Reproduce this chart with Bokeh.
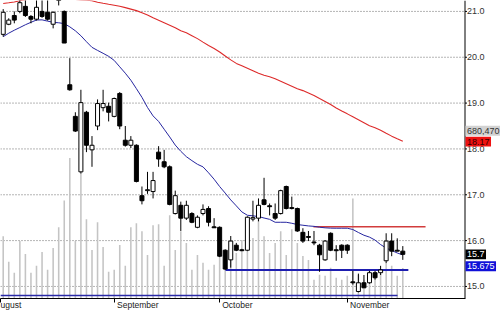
import numpy as np
from bokeh.plotting import figure
from bokeh.models import Range1d, FixedTicker
from bokeh.core.properties import value
from bokeh.embed import file_html
from bokeh.resources import INLINE

# ---------------- data ----------------
opens = [20.50, 20.72, 20.91, 21.00, 21.11, 20.89, 20.83, 21.00, 20.98, 20.72,
         21.35, 21.00, 19.40, 18.71, 17.50, 18.80, 17.98, 18.50, 18.90, 18.93,
         18.71, 19.21, 18.19, 18.08, 18.08, 16.98, 17.09, 17.07, 17.93, 17.72,
         17.61, 16.59, 16.77, 16.49, 16.59, 16.29, 16.59, 16.70, 16.30, 16.29,
         15.79, 15.58, 15.90, 15.80, 15.79, 16.47, 16.49, 16.89, 16.76, 16.59,
         16.59, 17.18, 16.72, 16.70, 16.18, 16.09, 15.97, 15.90, 15.58, 16.16,
         15.80, 15.90, 15.90, 15.10, 14.89, 15.08, 15.08, 15.30, 15.30, 15.56,
         15.99, 15.79, 15.77]
highs = [21.05, 20.85, 21.00, 21.30, 21.30, 20.92, 21.30, 21.30, 21.30, 21.00,
         21.45, 21.02, 19.98, 18.80, 19.29, 18.83, 18.28, 19.08, 19.29, 19.01,
         19.12, 19.24, 18.50, 18.28, 18.10, 17.18, 17.50, 17.50, 18.06, 17.98,
         17.64, 17.09, 16.85, 16.87, 16.62, 16.55, 16.79, 16.75, 16.49, 16.31,
         15.81, 16.10, 15.95, 15.82, 16.53, 16.87, 16.92, 17.37, 16.81, 16.81,
         17.11, 17.20, 16.96, 16.72, 16.27, 16.21, 16.21, 15.93, 16.01, 16.18,
         15.90, 15.92, 15.92, 15.34, 15.28, 15.25, 15.34, 15.34, 15.45, 16.16,
         16.16, 16.05, 15.88]
lows = [20.45, 20.70, 20.74, 20.96, 20.88, 20.74, 20.80, 20.86, 20.80, 20.63,
        21.13, 20.31, 19.27, 18.37, 17.46, 17.93, 17.61, 18.41, 18.82, 18.60,
        18.69, 18.43, 18.05, 18.02, 17.27, 16.79, 17.02, 16.92, 17.61, 17.58,
        16.77, 16.57, 16.21, 16.45, 16.38, 16.27, 16.55, 16.31, 16.28, 15.64,
        15.36, 15.41, 15.77, 15.77, 15.77, 16.42, 16.42, 16.77, 16.55, 16.45,
        16.57, 16.68, 16.68, 16.19, 15.95, 15.99, 15.90, 15.32, 15.56, 15.77,
        15.56, 15.62, 15.71, 15.04, 14.87, 14.97, 15.06, 15.15, 15.25, 15.51,
        15.66, 15.77, 15.58]
closes = [20.98, 20.81, 20.81, 21.19, 20.91, 20.83, 21.09, 20.89, 20.83, 20.98,
          21.30, 20.31, 19.29, 18.39, 19.01, 18.08, 18.08, 18.99, 18.99, 18.80,
          19.10, 18.50, 18.08, 18.19, 17.29, 16.87, 17.11, 17.31, 17.78, 17.61,
          16.79, 16.98, 16.49, 16.77, 16.40, 16.51, 16.68, 16.40, 16.29, 15.66,
          15.38, 15.99, 15.79, 15.79, 16.51, 16.50, 16.77, 16.79, 16.74, 16.49,
          17.09, 16.70, 16.70, 16.21, 15.99, 16.07, 15.95, 15.69, 15.99, 15.79,
          15.79, 15.79, 15.79, 15.08, 15.08, 14.97, 15.30, 15.19, 15.36, 15.99,
          15.77, 15.77, 15.70]
volumes_k = [1386, 814, 572, 1276, 990, 572, 726, 1034, 638, 1122,
             1584, 2178, 3124, 1276, 2772, 1760, 1078, 1694, 1144, 594,
             638, 1188, 726, 1584, 1672, 1496, 968, 1628, 1650, 726,
             1848, 1078, 1496, 1232, 638, 968, 792, 638, 748, 946,
             858, 858, 1012, 1298, 1738, 1342, 1760, 1386, 1012, 1232,
             1496, 968, 1540, 1232, 946, 858, 418, 528, 506, 682,
             462, 418, 506, 2222, 528, 418, 616, 528, 550, 792,
             726, 506, 680.47]
ma_short = [20.449, 20.525, 20.590, 20.648, 20.709, 20.762, 20.812, 20.816, 20.788, 20.762,
            20.752, 20.734, 20.663, 20.577, 20.469, 20.339, 20.216, 20.149, 20.086, 20.020,
            19.931, 19.791, 19.652, 19.499, 19.315, 19.125, 18.905, 18.721, 18.600, 18.430,
            18.261, 18.084, 17.948, 17.831, 17.745, 17.665, 17.609, 17.479, 17.339, 17.179,
            17.037, 16.888, 16.758, 16.626, 16.553, 16.540, 16.525, 16.493, 16.464, 16.400,
            16.400, 16.400, 16.378, 16.350, 16.335, 16.320, 16.311, 16.292, 16.279, 16.272,
            16.270, 16.270, 16.270, 16.242, 16.177, 16.117, 16.076, 16.011, 15.914, 15.838,
            15.784, 15.730, 15.687]
ma_long = [21.173, 21.188, 21.205, 21.231, 21.255, 21.270, 21.280, 21.287, 21.290, 21.290,
           21.287, 21.280, 21.270, 21.260, 21.248, 21.242, 21.231, 21.199, 21.177, 21.156,
           21.136, 21.112, 21.082, 21.050, 21.017, 20.970, 20.922, 20.860, 20.806, 20.752,
           20.698, 20.644, 20.579, 20.536, 20.471, 20.406, 20.330, 20.255, 20.190, 20.114,
           20.028, 19.942, 19.866, 19.812, 19.758, 19.704, 19.650, 19.607, 19.575, 19.531,
           19.477, 19.423, 19.369, 19.315, 19.272, 19.218, 19.164, 19.099, 19.035, 18.970,
           18.894, 18.829, 18.765, 18.700, 18.635, 18.570, 18.505, 18.462, 18.408, 18.343,
           18.279, 18.224, 18.170]

month_names = ["August", "September", "October", "November"]
month_start_idx = [-2.1, 20, 39, 62]
price_ticks = [15.0, 16.0, 17.0, 18.0, 19.0, 20.0, 21.0]

# drawn level lines: (start index, end index, price)
resistance_line = (55.9, 76.1, 16.30)
support_line = (40.05, 73.0, 15.36)
floor_line = (-0.5, 71.05, 14.80)

volume_last_label = "680,470"
ma_long_last_label = "18.17"
last_close_label = "15.7"
ma_short_last_label = "15.675"

# ---------------- layout helpers ----------------
X0, X1 = -0.486, 89.604          # index range across the 500px canvas
Y0, Y1 = 14.737, 21.238          # price range across the 301px frame
PX_X = 500 / (X1 - X0)           # px per index unit
PX_Y = 301 / (Y1 - Y0)           # px per price unit

def xd(px):                      # screen px -> index
    return X0 + px / PX_X

def yd(py):                      # screen px (from top) -> price
    return Y1 - py / PX_Y

FONT = value("Liberation Sans")

n = len(closes)
idx = np.arange(n)
o = np.array(opens); c = np.array(closes)
up = c >= o

p = figure(width=500, height=312, output_backend="svg", toolbar_location=None,
           x_range=Range1d(X0, X1), y_range=Range1d(Y0, Y1),
           y_axis_location=None,
           min_border_left=0, min_border_top=0, min_border_right=0, min_border_bottom=11)
p.outline_line_color = None
p.background_fill_color = "white"
p.border_fill_color = "white"
p.xgrid.visible = False
p.ygrid.visible = False
p.extra_y_ranges = {"vol": Range1d(0, 6622)}

axis_x = xd(464.5)

# ---- bottom axis (month starts) ----
em = {"A": .667, "u": .556, "g": .556, "s": .5, "t": .278, "S": .667, "e": .556,
      "p": .556, "m": .833, "b": .556, "r": .333, "O": .778, "c": .5, "o": .556,
      "N": .722, "v": .5}
fs = 8.5
nb = 0.278 * fs
tick_pos, overrides = [], {}
for name, mi in zip(month_names, month_start_idx):
    if mi < X0:
        # month began before the window: only the part of its name inside is seen
        tick_pos.append(X0)
        overrides[X0] = name[1:]
        continue
    w = sum(em.get(ch, .556) for ch in name) * fs
    k = max(0, int(round((w + 6.0) / nb)))   # push text to start just right of the tick
    tick_pos.append(mi)
    overrides[mi] = "\u00a0" * k + name
p.xaxis.ticker = FixedTicker(ticks=tick_pos)
p.xaxis.major_label_overrides = overrides
p.xaxis.bounds = (X0, axis_x)
p.xaxis.major_label_text_font = "Liberation Sans"
p.xaxis.major_label_text_font_size = "8.5px"
p.xaxis.major_label_text_color = "#222222"
p.xaxis.major_tick_out = 4
p.xaxis.major_tick_in = 0
p.xaxis.minor_tick_line_color = None
p.xaxis.major_label_standoff = -3
p.xaxis.axis_line_color = "black"

# ---- horizontal dotted grid up to the price scale ----
p.segment(x0=[X0] * len(price_ticks), x1=[axis_x] * len(price_ticks),
          y0=price_ticks, y1=price_ticks, line_color="#6a6a6a", line_dash="1 2", line_width=1)

# ---- volume bars ----
p.vbar(x=idx, top=volumes_k, bottom=0, width=0.28, y_range_name="vol",
       fill_color="#c4c4c4", line_color=None)

# ---- level lines ----
p.line(x=[floor_line[0], floor_line[1]], y=[floor_line[2]] * 2, line_color="#2a2aa8", line_width=1.5)
p.line(x=[support_line[0], support_line[1]], y=[support_line[2]] * 2, line_color="#1e1eb0", line_width=2)
p.line(x=[resistance_line[0], resistance_line[1]], y=[resistance_line[2]] * 2, line_color="#d23c3c", line_width=1.5)

# ---- moving averages ----
p.line(x=idx, y=ma_long, line_color="#dd2a2a", line_width=1.1)
p.line(x=idx, y=ma_short, line_color="#2626a0", line_width=1)

# ---- candles ----
p.segment(x0=idx, y0=lows, x1=idx, y1=highs, line_color="black", line_width=1)
body_top = np.maximum(o, c)
body_bot = np.minimum(o, c)
body_bot = np.where(body_top - body_bot < 0.02, body_top - 0.02, body_bot)
p.vbar(x=idx[up], top=body_top[up], bottom=body_bot[up], width=0.72,
       fill_color="white", line_color="black", line_width=1)
p.vbar(x=idx[~up], top=body_top[~up], bottom=body_bot[~up], width=0.72,
       fill_color="black", line_color="black", line_width=1)

# ---- price scale on the right ----
p.segment(x0=[axis_x], x1=[axis_x], y0=[Y0], y1=[Y1], line_color="black", line_width=1)
p.segment(x0=[axis_x] * len(price_ticks), x1=[xd(466.5)] * len(price_ticks),
          y0=price_ticks, y1=price_ticks, line_color="black", line_width=1)
p.text(x=[xd(466.5)] * len(price_ticks), y=price_ticks,
       text=["%.1f" % t for t in price_ticks], text_font=FONT, text_font_size="9px",
       text_color="#333333", text_align="left", text_baseline="middle")

# ---- value tags ----
tags = [  # (text, price anchor, background, text colour)
    (volume_last_label, yd(131.5), "#d2d2d2", "#333333"),
    (ma_long_last_label, ma_long[-1] - 0.01, "#ee1111", "#330000"),
    (last_close_label, closes[-1], "#000000", "#ffffff"),
    (ma_short_last_label, yd(268.5), "#1010d8", "#ffffff"),
]
for text, yc, bg, fg in tags:
    w_px = sum((.278 if ch in ".," else .556) for ch in text) * 9 + 3
    h = 5.0 / PX_Y
    p.quad(left=[xd(465)], right=[xd(465 + w_px)], bottom=[yc - h], top=[yc + h],
           fill_color=bg, line_color=None)
    p.text(x=[xd(466.5)], y=[yc], text=[text], text_font=FONT, text_font_size="9px",
           text_color=fg, text_align="left", text_baseline="middle")

open("out.html", "w").write(file_html(p, INLINE))
